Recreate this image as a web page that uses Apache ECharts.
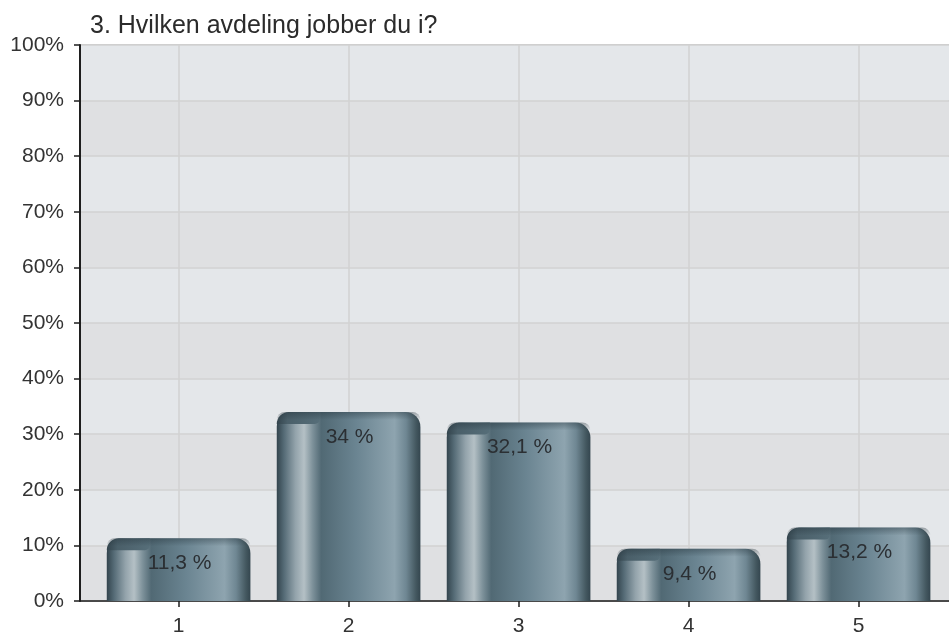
<!DOCTYPE html>
<html>
<head>
<meta charset="utf-8">
<script src="https://cdn.jsdelivr.net/npm/echarts@6/dist/echarts.min.js"></script>
<style>
  html, body { margin: 0; padding: 0; background: #ffffff; }
  #chart { width: 949px; height: 638px; }
</style>
</head>
<body>
<div id="chart"></div>
<script>
// Survey question and answer shares per department
const titleText = '3. Hvilken avdeling jobber du i?';
const categories = ['1', '2', '3', '4', '5'];
const shares = [11.3, 34, 32.1, 9.4, 13.2];
const yTicks = [0, 10, 20, 30, 40, 50, 60, 70, 80, 90, 100];

const FONT = '"Liberation Sans", Arial, Helvetica, sans-serif';
const positions = categories.map((c, i) => i + 1);

function pctLabel(v) {
  return String(v).replace('.', ',') + ' %';
}

// Horizontal shading that gives each column its rounded, metallic look
function bodyFill() {
  return new echarts.graphic.LinearGradient(0, 0, 1, 0, [
    { offset: 0.00, color: '#33444d' },
    { offset: 0.05, color: '#556b76' },
    { offset: 0.13, color: '#93a3ab' },
    { offset: 0.19, color: '#b4c0c5' },
    { offset: 0.25, color: '#7d919a' },
    { offset: 0.31, color: '#516974' },
    { offset: 0.55, color: '#6a8491' },
    { offset: 0.82, color: '#8ea4af' },
    { offset: 0.90, color: '#6f8793' },
    { offset: 0.97, color: '#43575f' },
    { offset: 1.00, color: '#34464f' }
  ]);
}

function renderColumn(params, api) {
  const xv = api.value(0);
  const yv = api.value(1);
  const top = api.coord([xv, yv]);
  const base = api.coord([xv, 0]);
  const w = api.size([0.845, 0])[0];
  const x = top[0] - w / 2;
  const h = base[1] - top[1];
  const r = Math.min(15, h);
  const capH = Math.min(12, h);
  return {
    type: 'group',
    children: [
      {
        type: 'rect',
        shape: { x: x, y: top[1], width: w, height: h, r: [r, r, 0, 0] },
        style: { fill: bodyFill() }
      },
      {
        // dark lid over the left part of the column top
        type: 'rect',
        shape: { x: x, y: top[1], width: w * 0.3, height: capH, r: [r, 0, 5, 0] },
        style: {
          fill: new echarts.graphic.LinearGradient(0, 0, 1, 0, [
            { offset: 0, color: '#33444d' },
            { offset: 0.25, color: '#4a5f69' },
            { offset: 1, color: '#566e79' }
          ])
        }
      },
      {
        // soft darker rim along the rounded top
        type: 'rect',
        shape: { x: x, y: top[1], width: w, height: Math.min(8, h), r: [r, r, 0, 0] },
        style: {
          fill: new echarts.graphic.LinearGradient(0, 0, 0, 1, [
            { offset: 0, color: 'rgba(35,50,58,0.4)' },
            { offset: 1, color: 'rgba(35,50,58,0)' }
          ])
        }
      },
      {
        type: 'text',
        style: {
          text: pctLabel(yv),
          x: top[0] + 1,
          y: top[1] + 25,
          align: 'center',
          verticalAlign: 'middle',
          fill: '#2b2f33',
          font: '21px ' + FONT
        }
      }
    ]
  };
}

const chart = echarts.init(document.getElementById('chart'), null, { renderer: 'canvas' });

chart.setOption({
  animation: false,
  backgroundColor: '#ffffff',
  textStyle: { fontFamily: FONT },
  title: {
    text: titleText,
    left: 85,
    top: 9,
    textStyle: { fontFamily: FONT, fontSize: 25, fontWeight: 'normal', color: '#2b2b2b' }
  },
  grid: {
    left: 80,
    right: 0,
    top: 45,
    bottom: 37,
    show: true,
    backgroundColor: '#e3e6e9',
    borderColor: '#8c8c8c',
    borderWidth: 1
  },
  xAxis: {
    type: 'value',
    min: 0.42,
    max: 5.532,
    axisLine: { show: true, onZero: false, lineStyle: { color: '#1e1e1e', width: 1.5 } },
    axisTick: { show: true, length: 6, customValues: positions, lineStyle: { color: '#1e1e1e', width: 1.5 } },
    axisLabel: {
      customValues: positions,
      formatter: (v) => categories[Math.round(v) - 1],
      margin: 15,
      fontSize: 21,
      color: '#333333',
      fontFamily: FONT
    },
    splitLine: { show: true, lineStyle: { color: '#d2d2d2', width: 1.5 } }
  },
  yAxis: {
    type: 'value',
    min: yTicks[0],
    max: yTicks[yTicks.length - 1],
    interval: 10,
    axisLine: { show: true, lineStyle: { color: '#1e1e1e', width: 2 } },
    axisTick: { show: true, length: 6, lineStyle: { color: '#1e1e1e', width: 1.5 } },
    axisLabel: {
      formatter: '{value}%',
      margin: 16,
      fontSize: 21,
      color: '#333333',
      fontFamily: FONT
    },
    splitLine: { show: true, lineStyle: { color: '#d2d2d2', width: 1.5 } },
    splitArea: { show: true, areaStyle: { color: ['#dfe0e2', '#e4e7ea'] } }
  },
  series: [
    {
      type: 'custom',
      renderItem: renderColumn,
      data: shares.map((v, i) => [positions[i], v]),
      encode: { x: 0, y: 1 },
      z: 5
    }
  ]
});
</script>
</body>
</html>
